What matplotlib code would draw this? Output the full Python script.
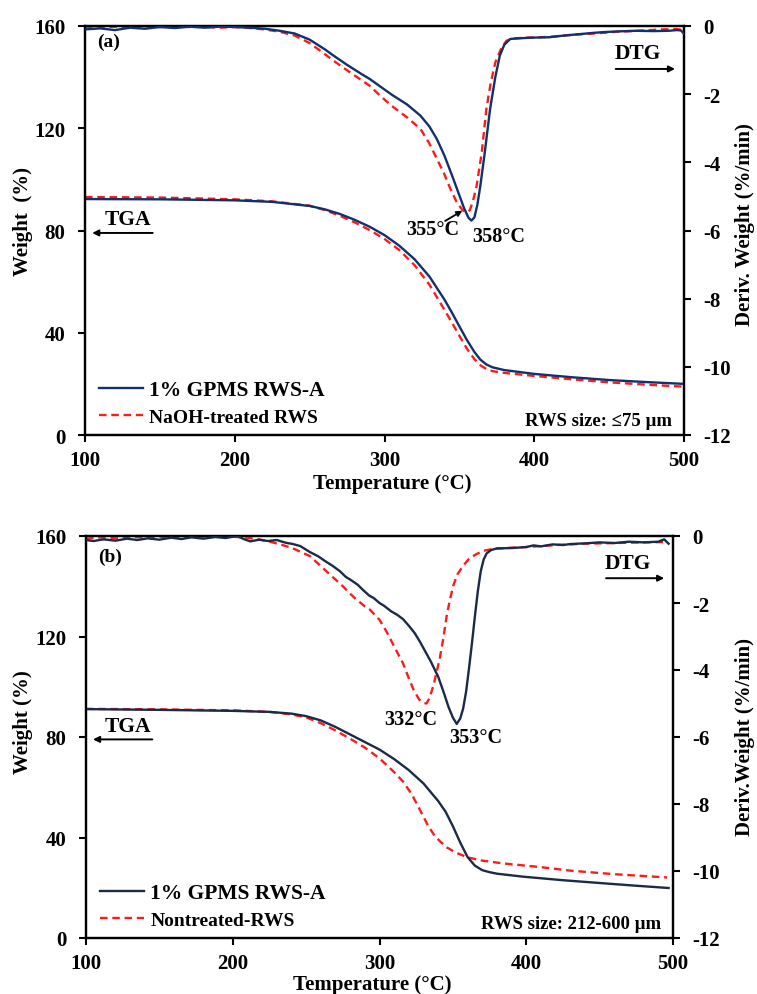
import matplotlib
matplotlib.use("Agg")
import matplotlib.pyplot as plt
from matplotlib.lines import Line2D

plt.rcParams["font.family"] = ["Liberation Serif", "DejaVu Serif"]
plt.rcParams["font.weight"] = "bold"
plt.rcParams["axes.labelweight"] = "bold"

BLUE_A = "#12306c"
BLUE_B = "#1b2a47"
RED = "#ff1a1a"

# ---------------- Panel (a): RWS size <= 75 um ----------------
tga_a_blue_T = [100, 150, 200, 225, 250, 260, 270, 280, 290, 300, 310, 320, 330, 340, 345,
                350, 355, 360, 364, 368, 372, 380, 400, 425, 450, 475, 500]
tga_a_blue_W = [92.3, 92.2, 91.8, 91.2, 89.6, 88.3, 86.5, 84.2, 81.5, 78.2, 74.0, 68.8, 62.0, 53.0, 47.9,
                42.5, 37.2, 32.5, 29.5, 27.6, 26.5, 25.4, 23.9, 22.6, 21.5, 20.7, 20.0]
tga_a_red_T = [100, 150, 200, 225, 250, 260, 270, 280, 290, 300, 310, 320, 330, 340, 345,
               350, 355, 360, 364, 368, 372, 380, 400, 425, 450, 475, 500]
tga_a_red_W = [93.1, 92.9, 92.2, 91.4, 89.7, 88.0, 85.8, 83.2, 80.2, 76.7, 72.3, 66.5, 58.8, 49.0, 44.0,
               38.8, 33.8, 29.7, 27.3, 25.8, 25.0, 24.3, 23.1, 21.8, 20.6, 19.7, 18.9]

dtg_a_blue_T = [100, 110, 120, 130, 140, 150, 160, 170, 180, 190, 200, 210, 220, 230, 240, 250, 260, 266,
                275, 285, 290, 297, 305, 315, 324, 330, 335, 340, 346, 350, 353, 356, 358, 360, 362, 364,
                367, 370.5, 374, 377, 380, 384, 390, 400, 410, 420, 430, 440, 446, 455, 468, 480, 490,
                495, 498, 500]
dtg_a_blue_D = [-0.10, -0.07, -0.12, -0.05, -0.08, -0.03, -0.06, -0.02, -0.05, -0.02, -0.03, -0.05, -0.08,
                -0.14, -0.22, -0.40, -0.68, -0.87, -1.14, -1.42, -1.55, -1.77, -2.02, -2.30, -2.63, -2.95,
                -3.32, -3.80, -4.49, -4.97, -5.33, -5.62, -5.71, -5.62, -5.25, -4.69, -3.70, -2.44, -1.50,
                -0.87, -0.55, -0.38, -0.36, -0.34, -0.33, -0.28, -0.24, -0.20, -0.18, -0.16, -0.14, -0.15,
                -0.14, -0.12, -0.13, -0.23]
dtg_a_red_T = [100, 110, 120, 130, 140, 150, 160, 170, 180, 190, 200, 210, 220, 230, 240, 250, 260, 266,
               275, 285, 290, 297, 305, 315, 324, 330, 335, 340, 344, 348, 352, 355, 357, 359, 361.5, 365,
               368, 371, 374, 378, 381.5, 386, 395, 410, 425, 440, 455, 470, 485, 495, 500]
dtg_a_red_D = [-0.02, -0.05, -0.02, -0.06, -0.01, -0.03, -0.01, -0.03, -0.02, -0.05, -0.03, -0.06, -0.10,
               -0.17, -0.28, -0.50, -0.82, -1.02, -1.30, -1.60, -1.75, -2.04, -2.35, -2.68, -3.02, -3.45,
               -3.90, -4.35, -4.78, -5.15, -5.40, -5.47, -5.40, -5.15, -4.69, -3.70, -2.44, -1.65, -1.07,
               -0.65, -0.43, -0.37, -0.34, -0.32, -0.26, -0.22, -0.17, -0.14, -0.10, -0.09, -0.12]

# ---------------- Panel (b): RWS size 212-600 um ----------------
tga_b_blue_T = [100, 150, 200, 225, 240, 250, 260, 270, 280, 290, 300, 310, 320, 330, 340, 345,
                350, 355, 360, 365, 370, 375, 380, 398, 425, 452, 475, 497]
tga_b_blue_W = [91.1, 90.8, 90.4, 90.0, 89.3, 88.3, 86.6, 84.0, 81.0, 78.0, 75.0, 71.2, 66.8, 61.5, 54.5, 50.3,
                44.5, 38.0, 32.2, 28.8, 27.0, 26.2, 25.6, 24.4, 23.0, 21.8, 20.8, 19.9]
tga_b_red_T = [100, 150, 200, 225, 240, 250, 260, 270, 280, 290, 300, 310, 316, 322, 328, 333, 337, 341,
               346, 352, 360, 370, 384, 410, 430, 460, 496]
tga_b_red_W = [91.2, 91.0, 90.6, 90.0, 89.0, 87.8, 85.5, 82.6, 79.3, 75.8, 71.5, 66.0, 62.3, 57.2, 50.5, 44.8,
               41.2, 38.6, 36.0, 34.0, 32.1, 30.8, 29.7, 28.2, 26.8, 25.4, 24.1]

dtg_b_blue_T = [100, 105, 112, 120, 128, 135, 142, 150, 158, 165, 172, 180, 188, 195, 203, 208, 212, 218,
                224, 230, 236, 241, 246, 252.6, 258, 263, 268, 273, 277, 280, 285, 289, 293, 296, 300, 303,
                308, 312, 316, 320, 324, 327.6, 330, 335, 340, 344, 347, 350, 352.6, 355, 357, 359, 361,
                363, 365, 367, 369, 371, 373, 376, 380, 390, 400, 405, 410, 418, 425, 430, 440, 450, 460,
                470, 480, 490, 494, 497]
dtg_b_blue_D = [-0.12, -0.15, -0.10, -0.14, -0.08, -0.12, -0.07, -0.11, -0.05, -0.09, -0.04, -0.08, -0.03,
                -0.06, 0.00, -0.10, -0.16, -0.11, -0.15, -0.12, -0.20, -0.24, -0.30, -0.48, -0.60, -0.75,
                -0.89, -1.05, -1.22, -1.30, -1.45, -1.62, -1.78, -1.85, -2.00, -2.08, -2.25, -2.35, -2.48,
                -2.68, -2.90, -3.16, -3.35, -3.75, -4.20, -4.70, -5.10, -5.42, -5.61, -5.45, -5.15, -4.65,
                -3.95, -3.20, -2.40, -1.65, -1.05, -0.70, -0.52, -0.42, -0.37, -0.36, -0.33, -0.28, -0.31,
                -0.25, -0.27, -0.24, -0.22, -0.19, -0.21, -0.17, -0.19, -0.17, -0.10, -0.23]
dtg_b_red_T = [100, 110, 120, 130, 140, 150, 160, 170, 180, 190, 200, 210, 220, 230, 240, 252.6, 260, 268,
               275, 283, 290, 293.5, 300, 305, 310, 316, 320, 323, 327, 330, 332, 334, 336.7, 339, 341,
               343.5, 345.8, 348, 350.3, 353, 357, 361, 366, 371, 377, 385, 400, 420, 440, 460, 480, 496]
dtg_b_red_D = [-0.08, -0.04, -0.07, -0.02, -0.05, -0.02, -0.04, -0.01, -0.03, 0.00, -0.02, -0.05, -0.12,
               -0.22, -0.35, -0.60, -0.90, -1.22, -1.50, -1.85, -2.10, -2.20, -2.50, -2.87, -3.30, -3.80,
               -4.25, -4.57, -4.88, -4.98, -5.00, -4.85, -4.47, -4.05, -3.67, -3.05, -2.38, -1.90, -1.48,
               -1.15, -0.89, -0.68, -0.54, -0.44, -0.39, -0.36, -0.33, -0.27, -0.23, -0.21, -0.19, -0.18]

x_ticks = [100, 200, 300, 400, 500]
w_ticks = [0, 40, 80, 120, 160]
d_ticks = [0, -2, -4, -6, -8, -10, -12]

TICK_FS = 15
LABEL_FS = 15
LW = 1.7
DASH = (3.2, 2.0)

fig = plt.figure(figsize=(7.57, 9.95), dpi=100)


def style_axes(ax, ax2):
    ax.set_xlim(100, 500)
    ax.set_ylim(0, 160)
    ax2.set_ylim(-12, 0)
    ax.set_xticks(x_ticks)
    ax.set_yticks(w_ticks)
    ax2.set_yticks(d_ticks)
    ax2.set_yticklabels([str(v) for v in d_ticks])
    for a in (ax, ax2):
        for s in a.spines.values():
            s.set_linewidth(1.6)
            s.set_color("black")
        a.tick_params(direction="out", length=5, width=1.5, labelsize=TICK_FS, pad=6)
    ax.tick_params(axis="y", pad=9)
    ax2.tick_params(axis="y", pad=9)
    for lbl in ax.get_xticklabels() + ax.get_yticklabels() + ax2.get_yticklabels():
        lbl.set_fontweight("bold")


def draw_panel(rect, blue, tga_bT, tga_bW, tga_rT, tga_rW, dtg_bT, dtg_bD, dtg_rT, dtg_rD,
               red_label, tag, size_text, peaks, right_label, wlabel, xlabel_y, xlabel_x):
    ax = fig.add_axes(rect)
    ax2 = ax.twinx()
    ax.plot(tga_rT, tga_rW, color=RED, lw=LW, dashes=DASH, zorder=2)
    ax.plot(tga_bT, tga_bW, color=blue, lw=LW, zorder=3)
    ax2.plot(dtg_rT, dtg_rD, color=RED, lw=LW, dashes=DASH, zorder=2)
    ax2.plot(dtg_bT, dtg_bD, color=blue, lw=LW, zorder=3)
    style_axes(ax, ax2)

    # legend
    handles = [Line2D([], [], color=blue, lw=LW),
               Line2D([], [], color=RED, lw=LW, dashes=DASH)]
    leg = ax.legend(handles, ["1% GPMS RWS-A", red_label], loc="lower left",
                    bbox_to_anchor=(0.0, -0.012), frameon=False, handlelength=2.3,
                    handletextpad=0.3, labelspacing=0.45, borderaxespad=0.3,
                    prop={"weight": "bold", "size": 14})
    leg.get_texts()[0].set_fontsize(15.5)

    ax.text(0.02, tag[1], tag[0], transform=ax.transAxes, ha="left", va="center",
            fontsize=14, fontweight="bold")
    ax.text(0.98, 0.035, size_text, transform=ax.transAxes, ha="right", va="center",
            fontsize=13.5, fontweight="bold")

    # TGA / DTG direction markers
    ax.text(0.072, 0.528, "TGA", transform=ax.transAxes, ha="center", va="center",
            fontsize=15.5, fontweight="bold")
    ax.annotate("", xy=(0.012, 0.494), xytext=(0.113, 0.494), xycoords="axes fraction",
                arrowprops=dict(arrowstyle="-|>", color="black", lw=1.4, mutation_scale=9,
                                shrinkA=0, shrinkB=0))
    ax.text(0.923, 0.934, "DTG", transform=ax.transAxes, ha="center", va="center",
            fontsize=15.5, fontweight="bold")
    ax.annotate("", xy=(0.985, 0.895), xytext=(0.886, 0.895), xycoords="axes fraction",
                arrowprops=dict(arrowstyle="-|>", color="black", lw=1.4, mutation_scale=9,
                                shrinkA=0, shrinkB=0))

    for label, tx, ty, arrow in peaks:
        ax2.text(tx, ty, label, ha="center", va="center", fontsize=14.5, fontweight="bold")
        if arrow is not None:
            ax2.annotate("", xy=arrow[1], xytext=arrow[0],
                         arrowprops=dict(arrowstyle="-|>", color="black", lw=1.3,
                                         mutation_scale=8, shrinkA=0, shrinkB=0))

    fig.text(0.031, wlabel[0], wlabel[1], rotation=90, ha="center", va="center",
             fontsize=LABEL_FS, fontweight="bold")
    fig.text(0.984, right_label[0], right_label[1], rotation=90, ha="center", va="center",
             fontsize=LABEL_FS, fontweight="bold")
    fig.text(xlabel_x, xlabel_y, "Temperature (°C)", ha="center", va="center",
             fontsize=LABEL_FS, fontweight="bold")
    return ax, ax2


draw_panel([85 / 757, 1 - 436 / 995, 599 / 757, 409 / 995], BLUE_A,
           tga_a_blue_T, tga_a_blue_W, tga_a_red_T, tga_a_red_W,
           dtg_a_blue_T, dtg_a_blue_D, dtg_a_red_T, dtg_a_red_D,
           "NaOH-treated RWS", ("(a)", 0.962), "RWS size: \u226475 \u00b5m",
           [("355°C", 332, -5.96, ((340.5, -5.72), (352, -5.42))),
            ("358°C", 376.5, -6.16, None)],
           (1 - 225 / 995, "Deriv. Weight (%/min)"), (1 - 222 / 995, "Weight  (%)"),
           1 - 484 / 995, 392 / 757)

draw_panel([86 / 757, 1 - 939 / 995, 587 / 757, 402 / 995], BLUE_B,
           tga_b_blue_T, tga_b_blue_W, tga_b_red_T, tga_b_red_W,
           dtg_b_blue_T, dtg_b_blue_D, dtg_b_red_T, dtg_b_red_D,
           "Nontreated-RWS", ("(b)", 0.95), "RWS size: 212-600 \u00b5m",
           [("332°C", 321.5, -5.46, None), ("353°C", 365.8, -6.0, None)],
           (1 - 737 / 995, "Deriv.Weight (%/min)"), (1 - 722 / 995, "Weight (%)"),
           1 - 985 / 995, 372 / 757)

fig.savefig("out.png", dpi=100)
